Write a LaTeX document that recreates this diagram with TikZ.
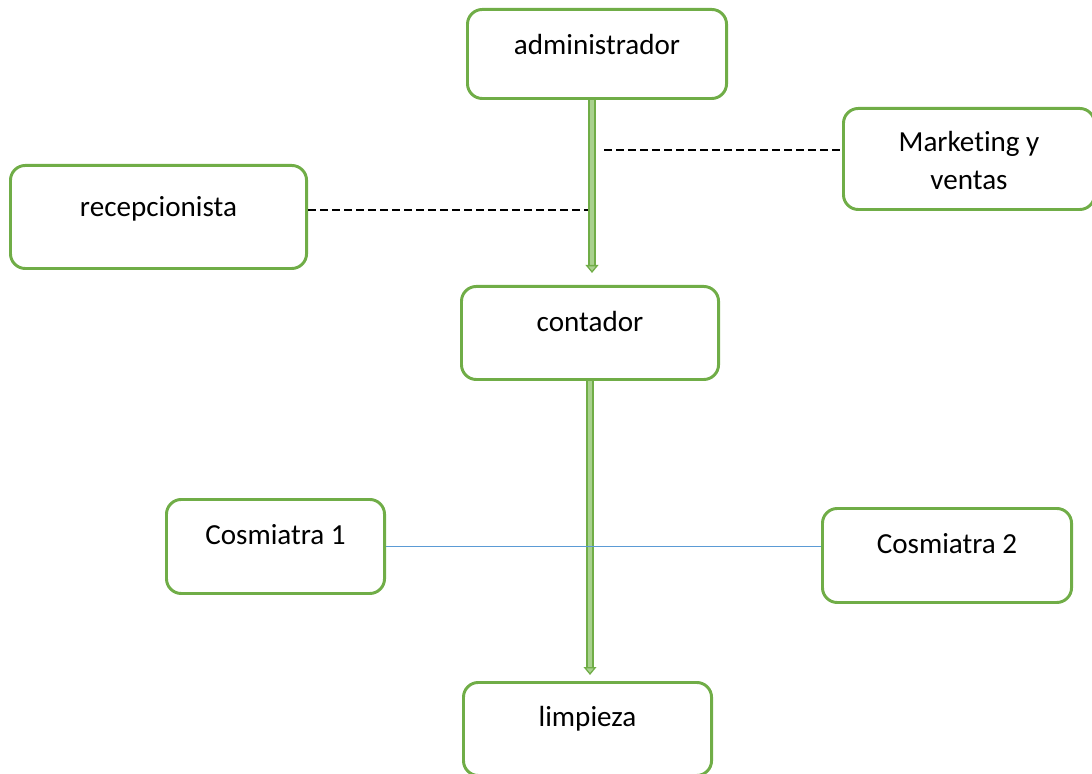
\documentclass[tikz,border=0pt]{standalone}
\usepackage{fontspec}
\setmainfont[Ligatures=NoCommon]{Carlito}
\usepackage{tikz}
\usetikzlibrary{arrows.meta}
\definecolor{boxgreen}{HTML}{70AD47}
\definecolor{arrowgreen}{HTML}{A9D18E}
\definecolor{linkblue}{HTML}{5B9BD5}

\begin{document}
\begin{tikzpicture}[x=0.025cm,y=-0.025cm,
    cargo/.style={draw=boxgreen,line width=2.1pt,rounded corners=0.37cm,fill=white,
      anchor=north west,inner ysep=0pt,align=center,
      font=\fontsize{20.7}{27}\selectfont},
    flecha/.style={draw=boxgreen,line width=0.9pt,double=arrowgreen,double distance=0.12cm,
      -{Triangle[width=0.32cm,length=0.2cm,fill=arrowgreen]}},
    guion/.style={black,line width=1.1pt,dash pattern=on 0.2cm off 0.1cm},
    enlace/.style={linkblue,line width=1pt}]
    \useasboundingbox (0,0) rectangle (1092,774);
    % puestos
    \node[cargo,minimum width=6.475cm,text height=1.125cm,text depth=1.1cm] (adm) at (466,8) {administrador};
    \node[cargo,minimum width=6.275cm,text height=2.025cm,text depth=0.5cm] (mkt) at (842,107) {Marketing y\\ventas};
    \node[cargo,minimum width=7.4cm,text height=1.275cm,text depth=1.3cm] (rec) at (9,164) {recepcionista};
    \node[cargo,minimum width=6.425cm,text height=1.125cm,text depth=1.2cm] (cont) at (460,285) {contador};
    \node[cargo,minimum width=5.45cm,text height=1.125cm,text depth=1.225cm] (cos1) at (165,498) {Cosmiatra 1};
    \node[cargo,minimum width=6.225cm,text height=1.125cm,text depth=1.225cm] (cos2) at (821,507) {Cosmiatra 2};
    \node[cargo,minimum width=6.2cm,text height=1.1cm,text depth=1.225cm] (limp) at (462,681) {limpieza};
    % jerarquia
    \draw[flecha] ([xshift=0.05cm]adm.south -| cont.north) -- ([xshift=0.05cm,yshift=0.3cm]cont.north);
    \draw[flecha] (cont.south) -- ([yshift=0.15cm]limp.north -| cont.south);
    % apoyo
    \coordinate (d1) at (604,150);
    \coordinate (d2) at (588,210);
    \draw[guion] (d1) -- (d1 -| mkt.west);
    \draw[guion] (d2 -| rec.east) -- (d2);
    \draw[enlace] (cos1.east) -- (cos1.east -| cos2.west);
\end{tikzpicture}
\end{document}
